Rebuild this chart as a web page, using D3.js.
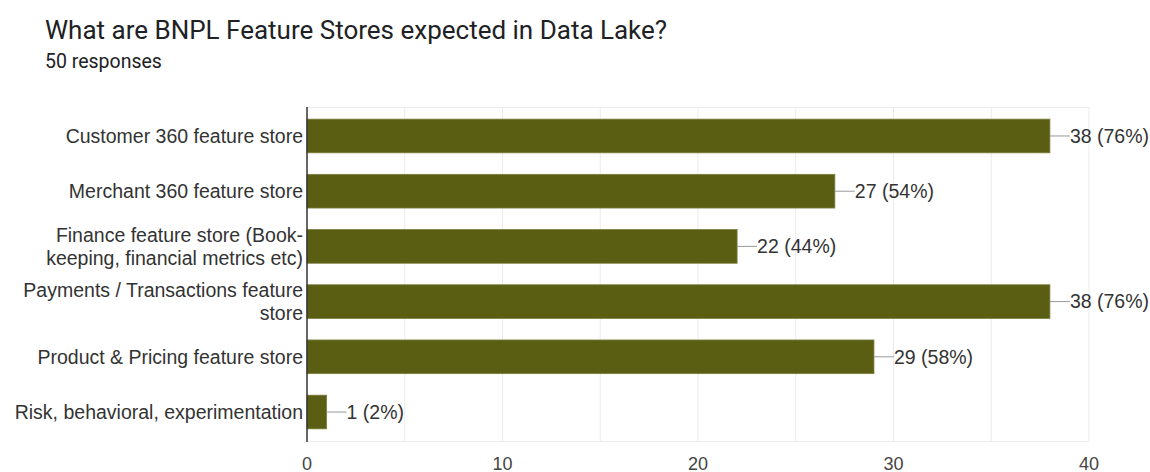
<!DOCTYPE html>
<html>
<head>
<meta charset="utf-8">
<script src="https://cdn.jsdelivr.net/npm/d3@7"></script>
<style>
  body { margin: 0; background: #fff; }
  svg { display: block; font-family: Arial, "Liberation Sans", sans-serif; }
</style>
</head>
<body>
<svg width="1150" height="472"></svg>
<script>
// data
var categories = [
  ["Customer 360 feature store"],
  ["Merchant 360 feature store"],
  ["Finance feature store (Book-", "keeping, financial metrics etc)"],
  ["Payments / Transactions feature", "store"],
  ["Product & Pricing feature store"],
  ["Risk, behavioral, experimentation"]
];
var counts = [38, 27, 22, 38, 29, 1];
var totalResponses = 50;
var xTicks = [0, 10, 20, 30, 40];

var svg = d3.select("svg"),
    plotLeft = 307, plotRight = 1089, plotTop = 107, plotBottom = 441;

svg.append("text")
    .attr("x", 45).attr("y", 39)
    .attr("font-family", "Roboto, sans-serif")
    .attr("font-size", 26).attr("fill", "#202124")
    .text("What are BNPL Feature Stores expected in Data Lake?");

svg.append("text")
    .attr("x", 45).attr("y", 68)
    .attr("font-family", "Roboto, sans-serif")
    .attr("font-size", 19.5).attr("fill", "#202124")
    .text(totalResponses + " responses");

var x = d3.scaleLinear().domain([0, 40]).range([plotLeft, plotRight]);
var y = d3.scaleBand().domain(d3.range(counts.length)).range([plotTop, plotBottom])
    .paddingInner(0.39).paddingOuter(0.22);

var g = svg.append("g");

// gridlines every 5
g.selectAll("line.grid")
  .data(d3.range(5, 41, 5))
  .enter().append("line")
    .attr("class", "grid")
    .attr("x1", function(d) { return x(d); })
    .attr("x2", function(d) { return x(d); })
    .attr("y1", plotTop).attr("y2", plotBottom)
    .attr("stroke", "#ebebeb");
g.append("line")
    .attr("x1", plotLeft).attr("x2", plotRight)
    .attr("y1", plotTop + 0.5).attr("y2", plotTop + 0.5)
    .attr("stroke", "#ebebeb");
g.append("line")
    .attr("x1", plotLeft).attr("x2", plotRight)
    .attr("y1", plotBottom + 0.5).attr("y2", plotBottom + 0.5)
    .attr("stroke", "#ebebeb");

// bars
g.selectAll("rect.bar")
  .data(counts)
  .enter().append("rect")
    .attr("class", "bar")
    .attr("x", x(0))
    .attr("y", function(d, i) { return y(i); })
    .attr("width", function(d) { return x(d) - x(0); })
    .attr("height", y.bandwidth())
    .attr("fill", "#5a5e12")
    .attr("stroke", "#7a7d3c")
    .attr("stroke-width", 0.8);

// value labels with leader line
var vl = g.selectAll("g.val")
  .data(counts)
  .enter().append("g")
    .attr("class", "val")
    .attr("transform", function(d, i) { return "translate(" + x(d) + "," + (y(i) + y.bandwidth() / 2) + ")"; });
vl.append("line")
    .attr("x1", 0).attr("x2", 20)
    .attr("stroke", "#999").attr("stroke-width", 1);
vl.append("text")
    .attr("x", 20).attr("dy", "0.35em")
    .attr("font-size", 19.5).attr("fill", "#333")
    .text(function(d) { return d + " (" + Math.round(d / totalResponses * 100) + "%)"; });

// category labels
var cl = g.selectAll("text.cat")
  .data(categories)
  .enter().append("text")
    .attr("class", "cat")
    .attr("text-anchor", "end")
    .attr("font-size", 19.5).attr("fill", "#333")
    .attr("transform", function(d, i) { return "translate(" + (plotLeft - 4) + "," + (y(i) + y.bandwidth() / 2) + ")"; });
cl.selectAll("tspan")
  .data(function(d) { return d; })
  .enter().append("tspan")
    .attr("x", 0)
    .attr("y", function(d, j, nodes) { return (j - (nodes.length - 1) / 2) * 23; })
    .attr("dy", "0.35em")
    .text(function(d) { return d; });

// y axis line
g.append("line")
    .attr("x1", plotLeft).attr("x2", plotLeft)
    .attr("y1", plotTop).attr("y2", plotBottom + 1)
    .attr("stroke", "#333").attr("stroke-width", 1.5);

// x tick labels
g.selectAll("text.tick")
  .data(xTicks)
  .enter().append("text")
    .attr("class", "tick")
    .attr("x", function(d) { return x(d); })
    .attr("y", 470)
    .attr("text-anchor", "middle")
    .attr("font-size", 18).attr("fill", "#444")
    .text(function(d) { return d; });
</script>
</body>
</html>
